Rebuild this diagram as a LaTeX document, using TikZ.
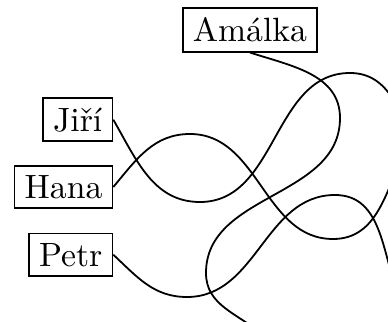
\documentclass[tikz,border=0pt]{standalone}
\begin{document}
\begin{tikzpicture}[x=0.3058pt, y=-0.3058pt,
  namebox/.style={draw, line width=0.5pt, inner xsep=3.1pt, inner ysep=2.9pt,
    font=\fontsize{10.3}{12}\selectfont},
  wire/.style={line width=0.55pt}]
  \useasboundingbox (0,0) rectangle (388,322);
  \clip (0,0) rectangle (388,322);
  % name boxes
  \node[namebox] (amalka) at (250,30) {Amálka};
  \node[namebox, anchor=east] (jiri) at (113.3,119.7) {Jiří};
  \node[namebox, anchor=east] (hana) at (113.3,187) {Hana};
  \node[namebox, anchor=east] (petr) at (113.3,254.7) {Petr};
  % loose ends of the wires, outside the frame
  \coordinate (jend) at (420,150);
  \coordinate (hend) at (405,150);
  \coordinate (pend) at (400,300);
  \coordinate (aend) at (262,334);
  % wires
  \draw[wire] (jiri.east) to[out=-60,in=180] (200,202)
    to[out=0,in=180] (350,73) to[out=0,in=120] (jend);
  \draw[wire] (hana.east) to[out=50,in=180] (190,134)
    to[out=0,in=180] (333,239) to[out=0,in=-115] (hend);
  \draw[wire] (petr.east) to[out=-43,in=180] (187,297)
    to[out=0,in=180] (335,195) to[out=0,in=112] (pend);
  \draw[wire] (amalka.south) to[out=-18,in=90] (340,118)
    to[out=-90,in=90] (206,273) to[out=-90,in=140] (aend);
\end{tikzpicture}
\end{document}
